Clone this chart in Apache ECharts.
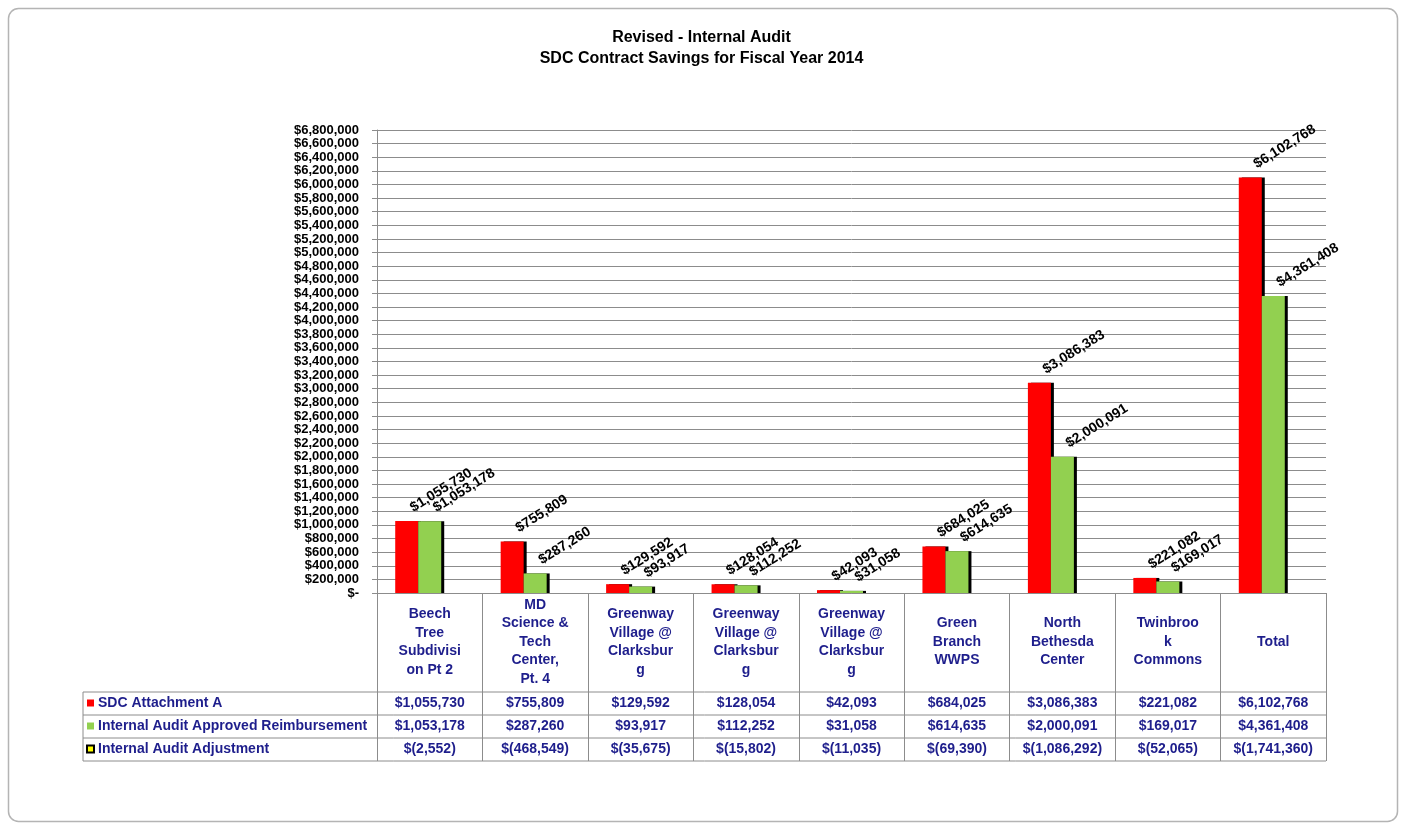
<!DOCTYPE html>
<html>
<head>
<meta charset="utf-8">
<title>SDC Contract Savings FY2014</title>
<script src="https://cdn.jsdelivr.net/npm/echarts@6/dist/echarts.min.js"></script>
<style>
  html, body { margin: 0; padding: 0; background: #fff; }
  #chart { width: 1403px; height: 825px; }
</style>
</head>
<body>
<div id="chart"></div>
<script>
// categories as printed in the table header (Excel wraps the long words)
const categories = [
  'Beech\nTree\nSubdivisi\non Pt 2',
  'MD\nScience &\nTech\nCenter,\nPt. 4',
  'Greenway\nVillage @\nClarksbur\ng',
  'Greenway\nVillage @\nClarksbur\ng',
  'Greenway\nVillage @\nClarksbur\ng',
  'Green\nBranch\nWWPS',
  'North\nBethesda\nCenter',
  'Twinbroo\nk\nCommons',
  'Total'
];
const seriesNames = ['SDC Attachment A', 'Internal Audit Approved Reimbursement', 'Internal Audit Adjustment'];
const sdcAttachment = [1055730, 755809, 129592, 128054, 42093, 684025, 3086383, 221082, 6102768];
const approvedReimb = [1053178, 287260, 93917, 112252, 31058, 614635, 2000091, 169017, 4361408];
const auditAdjust = [-2552, -468549, -35675, -15802, -11035, -69390, -1086292, -52065, -1741360];

const yMin = 0;
const yMax = 6800000;
const yStep = 200000;

const FONT = '"Liberation Sans", Arial, sans-serif';
const NAVY = '#1e1e8c';
const GRID_GRAY = '#8c8c8c';

// table geometry (px)
const plotLeft = 377, plotRight = 1326, plotBottom = 593;
const tableLeft = 83;
const rowLines = [692, 715, 738, 761];

function money(v) {
  if (v < 0) return '$(' + Math.abs(v).toLocaleString('en-US') + ')';
  return '$' + v.toLocaleString('en-US');
}

const chart = echarts.init(document.getElementById('chart'));

// one hidden axis per table row, so the cell text follows the category scale
function rowAxis(values, margin) {
  return {
    type: 'category',
    position: 'bottom',
    data: values.map(money),
    axisLine: {show: false},
    axisTick: {show: false},
    splitLine: {show: false},
    axisLabel: {
      interval: 0,
      margin: margin,
      verticalAlign: 'middle',
      color: NAVY,
      fontFamily: FONT,
      fontWeight: 'bold',
      fontSize: 14
    }
  };
}

const barShadow = {shadowColor: '#000', shadowBlur: 0, shadowOffsetX: 3, shadowOffsetY: 0};

const valueLabel = {
  show: true,
  position: 'top',
  distance: 1,
  offset: [10, 0],
  rotate: 32,
  align: 'left',
  verticalAlign: 'bottom',
  color: '#000',
  fontFamily: FONT,
  fontWeight: 'bold',
  fontSize: 14,
  formatter: p => money(p.value)
};

const tableLines = rowLines.map(y => ({
  type: 'line',
  shape: {x1: tableLeft, y1: y, x2: plotRight, y2: y},
  style: {stroke: GRID_GRAY, lineWidth: 1}
}));
tableLines.push({
  type: 'line',
  shape: {x1: tableLeft, y1: rowLines[0], x2: tableLeft, y2: rowLines[3]},
  style: {stroke: GRID_GRAY, lineWidth: 1}
});

const option = {
  backgroundColor: '#fff',
  animation: false,
  title: {
    text: 'Revised - Internal Audit\nSDC Contract Savings for Fiscal Year 2014',
    left: 'center',
    top: 22,
    padding: [5, 13, 5, 5],
    textStyle: {
      color: '#000',
      fontFamily: FONT,
      fontWeight: 'bold',
      fontSize: 16,
      lineHeight: 21
    }
  },
  legend: {
    orient: 'vertical',
    left: 86,
    top: 695,
    padding: 0,
    itemGap: 7,
    itemWidth: 7,
    itemHeight: 7,
    icon: 'rect',
    itemStyle: {shadowColor: 'transparent', shadowOffsetX: 0},
    textStyle: {
      color: NAVY,
      fontFamily: FONT,
      fontWeight: 'bold',
      fontSize: 14,
      lineHeight: 16,
      padding: [0, 0, 0, -1]
    },
    data: seriesNames
  },
  graphic: [
    {
      type: 'rect',
      shape: {x: 8.5, y: 8.5, width: 1389, height: 813, r: 10},
      style: {fill: 'none', stroke: '#b4b4b4', lineWidth: 1.5}
    }
  ].concat(tableLines),
  grid: {
    left: plotLeft,
    right: 1403 - plotRight,
    top: 130,
    bottom: 825 - plotBottom
  },
  xAxis: [
    {
      type: 'category',
      position: 'bottom',
      data: categories,
      axisLine: {show: true, lineStyle: {color: GRID_GRAY, width: 1}},
      axisTick: {
        show: true,
        interval: 0,
        length: rowLines[3] - plotBottom,
        lineStyle: {color: GRID_GRAY, width: 1}
      },
      axisLabel: {
        interval: 0,
        margin: 49,
        verticalAlign: 'middle',
        color: NAVY,
        fontFamily: FONT,
        fontWeight: 'bold',
        fontSize: 14,
        lineHeight: 18.5
      }
    },
    rowAxis(sdcAttachment, 110.5),
    rowAxis(approvedReimb, 133.5),
    rowAxis(auditAdjust, 156.5)
  ],
  yAxis: {
    type: 'value',
    min: yMin,
    max: yMax,
    interval: yStep,
    axisLine: {show: true, lineStyle: {color: GRID_GRAY, width: 1}},
    axisTick: {show: true, length: 5, lineStyle: {color: GRID_GRAY}},
    splitLine: {show: true, lineStyle: {color: GRID_GRAY, width: 1}},
    axisLabel: {
      margin: 18,
      showMinLabel: true,
      showMaxLabel: true,
      color: '#000',
      fontFamily: FONT,
      fontWeight: 'bold',
      fontSize: 13,
      formatter: v => (v === 0 ? '$-' : '$' + v.toLocaleString('en-US'))
    }
  },
  series: [
    {
      name: seriesNames[0],
      type: 'bar',
      barWidth: 23,
      barGap: '0%',
      itemStyle: Object.assign({color: '#ff0000'}, barShadow),
      label: valueLabel,
      data: sdcAttachment
    },
    {
      name: seriesNames[1],
      type: 'bar',
      barWidth: 23,
      barGap: '0%',
      itemStyle: Object.assign({color: '#92d050'}, barShadow),
      label: valueLabel,
      data: approvedReimb
    },
    {
      name: seriesNames[2],
      type: 'bar',
      barWidth: 23,
      barGap: '0%',
      itemStyle: {color: '#ffff00', borderColor: '#000', borderWidth: 1},
      data: auditAdjust
    }
  ]
};

chart.setOption(option);
</script>
</body>
</html>
